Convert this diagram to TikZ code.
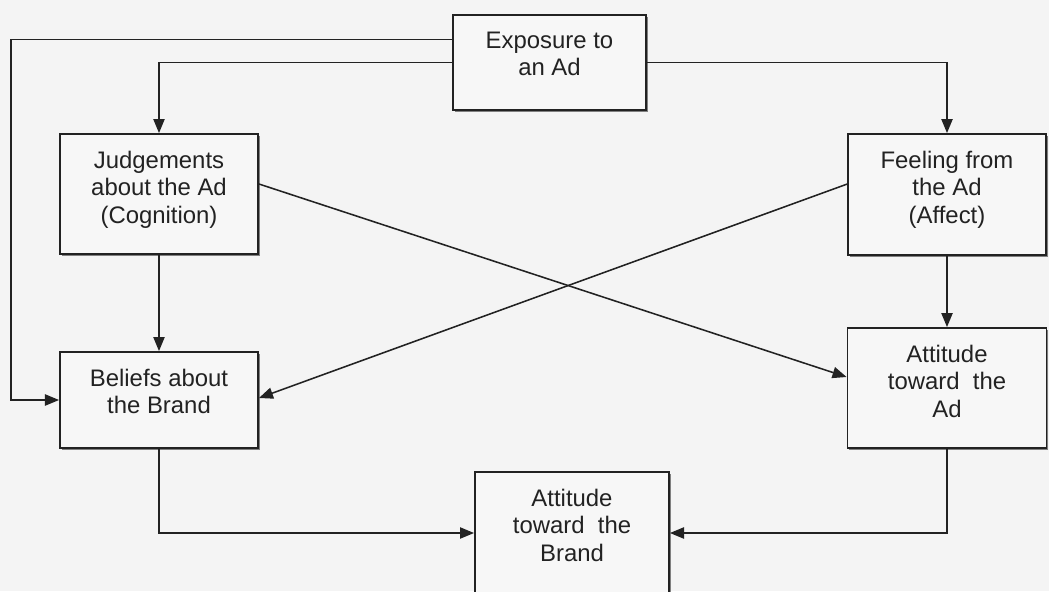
\documentclass[tikz,border=0pt]{standalone}
\usepackage{fontspec}
\setmainfont{Liberation Sans}
\usepackage{tikz}
\usetikzlibrary{arrows.meta,positioning,shadows}
\definecolor{inkGray}{HTML}{222222}
\definecolor{paperGray}{HTML}{F4F4F4}
\definecolor{boxGray}{HTML}{F7F7F7}

\tikzset{
  block/.style={draw=inkGray, fill=boxGray, line width=1.3pt,
    drop shadow={shadow xshift=1.2pt, shadow yshift=-1.2pt, fill=inkGray, opacity=0.55}},
  blocktext/.style={align=center, inner sep=0pt, anchor=north, text=inkGray,
    font=\fontsize{17}{19.6}\selectfont},
  conn/.style={draw=inkGray, line width=1.1pt, -{Triangle[length=10pt,width=8pt]}},
}

\begin{document}
\begin{tikzpicture}[x=0.025cm, y=-0.025cm]
  \useasboundingbox (0,0) rectangle (1049,591);
  \fill[paperGray] (0,0) rectangle (1049,591);

  % boxes
  \node[block, minimum width=4.825cm, minimum height=2.375cm] (expo)  at (549.5,62.5) {};
  \node[block, minimum width=4.95cm,  minimum height=3cm]     (judg)  at (159,194) {};
  \node[block, minimum width=4.95cm,  minimum height=3.025cm] (feel)  at (947,194.5) {};
  \node[block, minimum width=4.95cm,  minimum height=2.4cm]   (beli)  at (159,400) {};
  \node[block, minimum width=4.975cm, minimum height=3cm]     (attad) at (947,388) {};
  \node[block, minimum width=4.85cm,  minimum height=3.45cm]  (attbr) at (572,541) {};

  % box texts, set near the top edge
  \node[blocktext, below=0.44cm of expo.north]  (expo-txt)  {Exposure to\\an Ad};
  \node[blocktext, below=0.44cm of judg.north]  (judg-txt)  {Judgements\\about the Ad\\(Cognition)};
  \node[blocktext, below=0.44cm of feel.north]  (feel-txt)  {Feeling from\\the Ad\\(Affect)};
  \node[blocktext, below=0.44cm of beli.north]  (beli-txt)  {Beliefs about\\the Brand};
  \node[blocktext, below=0.44cm of attad.north] (attad-txt) {Attitude\\toward~ the\\Ad};
  \node[blocktext, below=0.44cm of attbr.north] (attbr-txt) {Attitude\\toward~ the\\Brand};

  % connectors
  \draw[conn] ([yshift=0.575cm]expo.west) -| ([xshift=-1.2cm]beli.west) -- (beli.west);
  \draw[conn] (expo.west) -| (judg.north);
  \draw[conn] (expo.east) -| (feel.north);
  \draw[conn] (judg.south) -- (beli.north);
  \draw[conn] (feel.south) -- (attad.north);
  \draw[conn] ([yshift=0.25cm]judg.east) -- ([yshift=0.275cm]attad.west);
  \draw[conn] ([yshift=0.26cm]feel.west) -- ([yshift=0.05cm]beli.east);
  \draw[conn] (beli.south) |- ([yshift=0.2cm]attbr.west);
  \draw[conn] (attad.south) |- ([yshift=0.2cm]attbr.east);
\end{tikzpicture}
\end{document}
